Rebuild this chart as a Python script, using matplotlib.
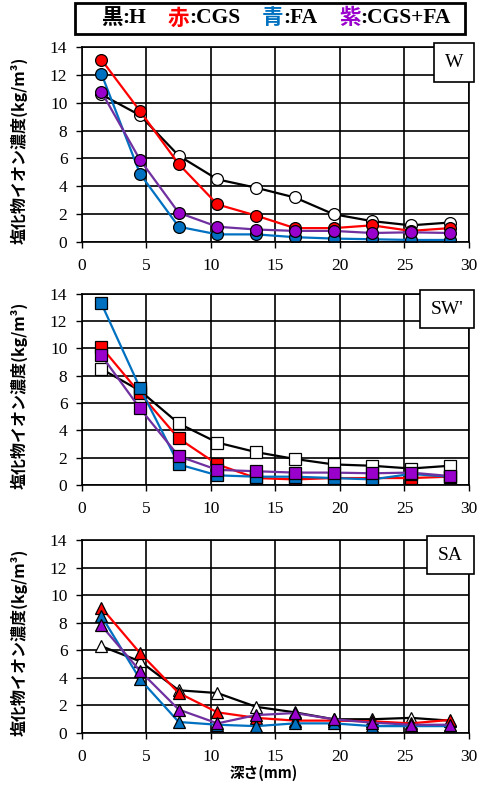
import matplotlib
matplotlib.use('Agg')
import matplotlib.pyplot as plt
from matplotlib.patches import Rectangle

plt.rcParams['font.family'] = ['Liberation Serif', 'Noto Sans CJK JP']
plt.rcParams['font.serif'] = ['Liberation Serif']

# 深さ (mm)
depth = [1.5, 4.5, 7.5, 10.5, 13.5, 16.5, 19.5, 22.5, 25.5, 28.5]

# W
w_h = [10.6, 9.1, 6.2, 4.5, 3.9, 3.2, 2.0, 1.5, 1.2, 1.4]
w_cgs = [13.1, 9.4, 5.6, 2.7, 1.9, 1.0, 1.0, 1.2, 0.8, 1.0]
w_fa = [12.1, 4.9, 1.1, 0.55, 0.55, 0.35, 0.25, 0.2, 0.15, 0.15]
w_cgsfa = [10.8, 5.9, 2.1, 1.1, 0.9, 0.8, 0.8, 0.65, 0.7, 0.65]

# SW'
sw_h = [8.5, 6.9, 4.5, 3.1, 2.4, 1.9, 1.5, 1.4, 1.2, 1.4]
sw_cgs = [10.1, 6.7, 3.4, 1.5, 0.5, 0.4, 0.5, 0.5, 0.5, 0.6]
sw_fa = [13.3, 7.1, 1.5, 0.7, 0.6, 0.6, 0.5, 0.4, 0.8, 0.6]
sw_cgsfa = [9.5, 5.6, 2.1, 1.1, 1.0, 0.9, 0.9, 0.85, 0.9, 0.65]

# SA
sa_h = [6.3, 5.2, 3.1, 2.9, 1.9, 1.5, 1.0, 1.0, 1.1, 0.9]
sa_cgs = [9.1, 5.8, 2.9, 1.5, 1.1, 0.9, 0.9, 0.85, 0.7, 0.95]
sa_fa = [8.5, 3.9, 0.8, 0.6, 0.5, 0.7, 0.7, 0.5, 0.5, 0.5]
sa_cgsfa = [7.8, 4.5, 1.7, 0.7, 1.3, 1.45, 1.0, 0.75, 0.6, 0.6]

panels = [
    ('W', 'o', [w_h, w_cgs, w_fa, w_cgsfa], 0.694, 0.2465),
    ("SW'", 's', [sw_h, sw_cgs, sw_fa, sw_cgsfa], 0.387, 0.2415),
    ('SA', '^', [sa_h, sa_cgs, sa_fa, sa_cgsfa], 0.0733, 0.244),
]

line_colors = ['black', '#FF0000', '#0070C0', '#7030A0']
face_colors = ['white', '#FF0000', '#0070C0', '#9900CC']

fig = plt.figure(figsize=(4.88, 7.91), dpi=100)

for name, mk, series, bottom, height in panels:
    ax = fig.add_axes([0.168, bottom, 0.793, height])
    for vals, lc, fc in zip(series, line_colors, face_colors):
        ax.plot(depth, vals, color=lc, lw=1.6, marker=mk, ms=8.5 if mk != '^' else 9,
                mfc=fc, mec='black', mew=0.9)
    ax.set_xlim(0, 30)
    ax.set_ylim(0, 14)
    ax.set_xticks(range(0, 31, 5))
    ax.set_yticks(range(0, 15, 2))
    ax.grid(True, color='black', lw=1.2)
    ax.set_axisbelow(True)
    ax.tick_params(direction='out', length=4.5, width=1, labelsize=12.5, color='black')
    ax.tick_params(axis='x', pad=7)
    ax.tick_params(axis='y', pad=6)
    for lab in ax.get_xticklabels() + ax.get_yticklabels():
        lab.set_fontfamily('Liberation Serif')
    for s in ax.spines.values():
        s.set_color('black')
        s.set_linewidth(1.2)
    ax.set_ylabel('塩化物イオン濃度(kg/m³)', fontsize=11.5, fontweight='bold',
                  family=['Noto Sans CJK JP', 'DejaVu Sans'])
    ax.yaxis.set_label_coords(-0.14, 0.47)
    ax.text(0.985, 0.965, name, transform=ax.transAxes, ha='right', va='top',
            fontsize=14, family='Liberation Serif',
            bbox=dict(boxstyle='square,pad=0.55', fc='white', ec='black', lw=1.2))
    if name == 'SA':
        ax.set_xlabel('深さ(mm)', fontsize=10.5, fontweight='bold',
                      family=['Noto Sans CJK JP', 'DejaVu Sans'])
        ax.xaxis.set_label_coords(0.469, -0.165)

# legend box on top
fig.patches.append(Rectangle((75 / 488, 1 - 34 / 791), 390 / 488, 31 / 791,
                             transform=fig.transFigure, fill=False, ec='black', lw=2))
pieces = [('黒', 'black', 'cjk'), (':H', 'black', 'serif'), ('    ', 'black', 'serif'),
          ('赤', '#FF0000', 'cjk'), (':CGS', 'black', 'serif'), ('    ', 'black', 'serif'),
          ('青', '#0070C0', 'cjk'), (':FA', 'black', 'serif'), ('    ', 'black', 'serif'),
          ('紫', '#9900CC', 'cjk'), (':CGS+FA', 'black', 'serif')]
renderer = fig.canvas.get_renderer()
xpix = 101
for txt, col, kind in pieces:
    fam = ['Noto Sans CJK JP'] if kind == 'cjk' else ['Liberation Serif']
    t = fig.text(xpix / 488, 1 - 18 / 791, txt, color=col, fontsize=15.5, fontweight='bold',
                 family=fam, va='center', ha='left')
    bb = t.get_window_extent(renderer=renderer)
    xpix += bb.width

fig.savefig('out.png', dpi=100)
